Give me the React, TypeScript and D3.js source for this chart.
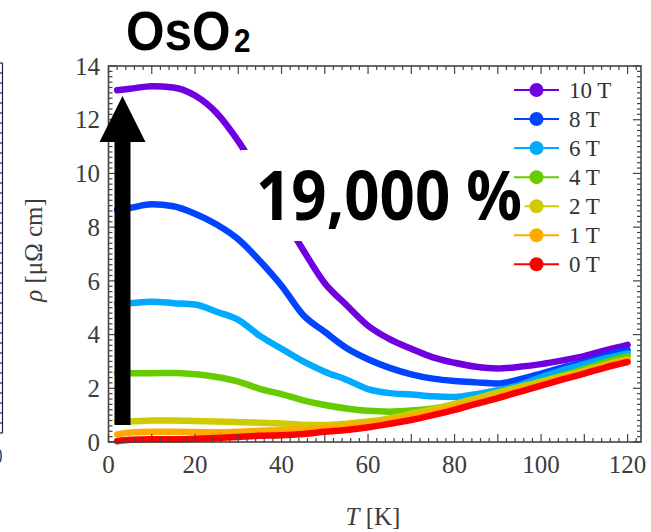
import React from "react";
import * as d3 from "d3";

// ---- data ----
const temps = [2, 5, 10, 15, 20, 25, 30, 35, 40, 45, 50, 55, 60, 65, 70, 75, 80, 85, 90, 95, 100, 105, 110, 115, 120];
const rho10T = [13.1, 13.15, 13.25, 13.2, 12.9, 12.25, 11.2, 9.9, 8.5, 7.15, 5.91, 5.1, 4.33, 3.83, 3.47, 3.15, 2.95, 2.8, 2.74, 2.8, 2.9, 3.04, 3.2, 3.42, 3.62];
const rho8T = [8.65, 8.72, 8.85, 8.78, 8.5, 8.1, 7.55, 6.74, 5.82, 4.73, 4.1, 3.5, 3.08, 2.76, 2.52, 2.36, 2.27, 2.22, 2.18, 2.33, 2.55, 2.78, 2.97, 3.23, 3.43];
const rho6T = [5.15, 5.17, 5.22, 5.17, 5.12, 4.85, 4.55, 3.95, 3.47, 3.0, 2.62, 2.32, 1.97, 1.82, 1.77, 1.7, 1.68, 1.78, 1.93, 2.12, 2.42, 2.68, 2.9, 3.12, 3.3];
const rho4T = [2.55, 2.56, 2.56, 2.57, 2.52, 2.42, 2.25, 1.98, 1.78, 1.55, 1.38, 1.25, 1.16, 1.13, 1.17, 1.25, 1.37, 1.52, 1.75, 2.0, 2.25, 2.48, 2.72, 2.98, 3.2];
const rho2T = [0.75, 0.76, 0.8, 0.8, 0.78, 0.76, 0.74, 0.72, 0.69, 0.64, 0.63, 0.68, 0.76, 0.88, 1.05, 1.22, 1.42, 1.62, 1.85, 2.05, 2.25, 2.45, 2.65, 2.88, 3.08];
const rho1T = [0.28, 0.35, 0.38, 0.38, 0.37, 0.36, 0.38, 0.42, 0.44, 0.5, 0.54, 0.6, 0.68, 0.8, 0.95, 1.12, 1.3, 1.5, 1.7, 1.92, 2.15, 2.38, 2.6, 2.82, 3.03];
const rho0T = [0.03, 0.08, 0.1, 0.1, 0.12, 0.15, 0.19, 0.23, 0.25, 0.3, 0.38, 0.45, 0.55, 0.68, 0.82, 1.0, 1.2, 1.42, 1.63, 1.87, 2.1, 2.33, 2.55, 2.78, 2.98];

const seriesNames = ["10 T", "8 T", "6 T", "4 T", "2 T", "1 T", "0 T"];
const seriesValues = [rho10T, rho8T, rho6T, rho4T, rho2T, rho1T, rho0T];
const seriesColors = ["#7000e0", "#0044ff", "#00aaff", "#66cc00", "#cccc00", "#ffaa00", "#ff0000"];

const xTickValues = [0, 20, 40, 60, 80, 100, 120];
const yTickValues = [0, 2, 4, 6, 8, 10, 12, 14];

const W = 651;
const H = 532;
const PL = 108.5, PR = 641, PT = 66, PB = 442;
const AX = "#444";
const serif = "'Liberation Serif', 'Times New Roman', serif";
const sans = "'Noto Sans', 'Open Sans', sans-serif";
const titleSans = "'Liberation Sans', Arial, sans-serif";

export default function App() {
  const x = d3.scaleLinear().domain([0, 123.1]).range([PL, PR]);
  const y = d3.scaleLinear().domain([0, 14]).range([PB, PT]);

  const line = d3
    .line<number>()
    .x((_, i) => x(temps[i]))
    .y((d) => y(d))
    .curve(d3.curveMonotoneX);

  const xMinor = d3.range(0, 123.1, 2);
  const yMinor = d3.range(0, 14.001, 0.2);

  const curve = (k: number) => (
    <path
      key={seriesNames[k]}
      d={line(seriesValues[k]) || ""}
      fill="none"
      stroke={seriesColors[k]}
      strokeWidth={6.5}
      strokeLinejoin="round"
      strokeLinecap="round"
    />
  );

  const legendX0 = 514, legendX1 = 559, legendY0 = 90, legendDy = 29.05;

  // arrow geometry
  const ac = 122.5;
  const arrowPath = `M${ac - 8},425 L${ac + 8},425 L${ac + 8},142 L${ac + 23},142 L${ac},96 L${ac - 23},142 L${ac - 8},142 Z`;

  return (
    <svg width={W} height={H} style={{ position: "absolute", left: 0, top: 0, background: "#fff" }}>
      <rect x={0} y={0} width={W} height={H} fill="#fff" />

      {/* remnant of neighbouring panel at the left edge */}
      <g stroke="#1c2350" strokeWidth={1.2}>
        <line x1={2.5} x2={2.5} y1={63} y2={433} />
        {d3.range(63, 434, 10).map((v) => (
          <line key={v} x1={0} x2={2.5} y1={v} y2={v} />
        ))}
      </g>
      <path d="M0,450 Q2.5,456 0,462" fill="none" stroke="#2a3a7a" strokeWidth={1.5} />

      {/* 10 T curve, partly hidden by the text box */}
      {curve(0)}
      <rect x={241} y={150} width={270} height={91} fill="#fff" />
      {[1, 2, 3, 4, 5, 6].map((k) => curve(k))}

      {/* frame */}
      <rect x={PL} y={PT} width={PR - PL} height={PB - PT} fill="none" stroke={AX} strokeWidth={1.6} />
      <g stroke={AX} strokeWidth={1.2}>
        {xMinor.map((v) => {
          const len = Math.abs(v % 10) < 1e-6 ? 8 : 4;
          return (
            <g key={"xt" + v}>
              <line x1={x(v)} x2={x(v)} y1={PB} y2={PB - len} />
              <line x1={x(v)} x2={x(v)} y1={PT} y2={PT + len} />
            </g>
          );
        })}
        {yMinor.map((v) => {
          const major = Math.abs(v / 2 - Math.round(v / 2)) < 1e-6;
          const len = major ? 8 : 4;
          return (
            <g key={"yt" + v.toFixed(1)}>
              <line x1={PL} x2={PL + len} y1={y(v)} y2={y(v)} />
              <line x1={PR} x2={PR - len} y1={y(v)} y2={y(v)} />
            </g>
          );
        })}
      </g>

      {/* tick labels */}
      <g fontFamily={serif} fontSize={25} fill="#3c3c3c">
        {xTickValues.map((v) => (
          <text key={"xl" + v} x={x(v)} y={473} textAnchor="middle">{v}</text>
        ))}
        {yTickValues.map((v) => (
          <text key={"yl" + v} x={100} y={y(v)} dy="0.35em" textAnchor="end">{v}</text>
        ))}
      </g>

      {/* axis titles */}
      <text x={373} y={525} textAnchor="middle" fontFamily={serif} fontSize={25} fill="#3c3c3c">
        <tspan fontStyle="italic">T</tspan> [K]
      </text>
      <text
        transform="translate(42,250) rotate(-90)"
        textAnchor="middle"
        fontFamily={serif}
        fontSize={25}
        fill="#3c3c3c"
      >
        <tspan fontStyle="italic">ρ</tspan> [μΩ cm]
      </text>

      {/* arrow */}
      <path d={arrowPath} fill="#000" />

      {/* legend */}
      {seriesNames.map((name, k) => {
        const ly = legendY0 + k * legendDy;
        return (
          <g key={"lg" + name}>
            <line x1={legendX0} x2={legendX1} y1={ly} y2={ly} stroke={seriesColors[k]} strokeWidth={2} />
            <circle cx={(legendX0 + legendX1) / 2} cy={ly} r={7} fill={seriesColors[k]} />
            <text x={569} y={ly} dy="0.35em" fontFamily={serif} fontSize={23} fill="#333">{name}</text>
          </g>
        );
      })}

      {/* annotation */}
      <text
        x={256}
        y={220}
        fontFamily={sans}
        fontWeight={700}
        fontSize={68}
        fill="#000"
        stroke="#fff"
        strokeWidth={10}
        strokeLinejoin="round"
        paintOrder="stroke"
        textLength={266}
        lengthAdjust="spacingAndGlyphs"
      >
        19,000 %
      </text>

      {/* title */}
      <text
        transform="translate(126,50) scale(0.9,1)"
        fontFamily={titleSans}
        fontWeight={700}
        fontSize={55}
        fill="#000"
      >
        OsO<tspan fontSize={33} dy={2} dx={4}>2</tspan>
      </text>
    </svg>
  );
}
